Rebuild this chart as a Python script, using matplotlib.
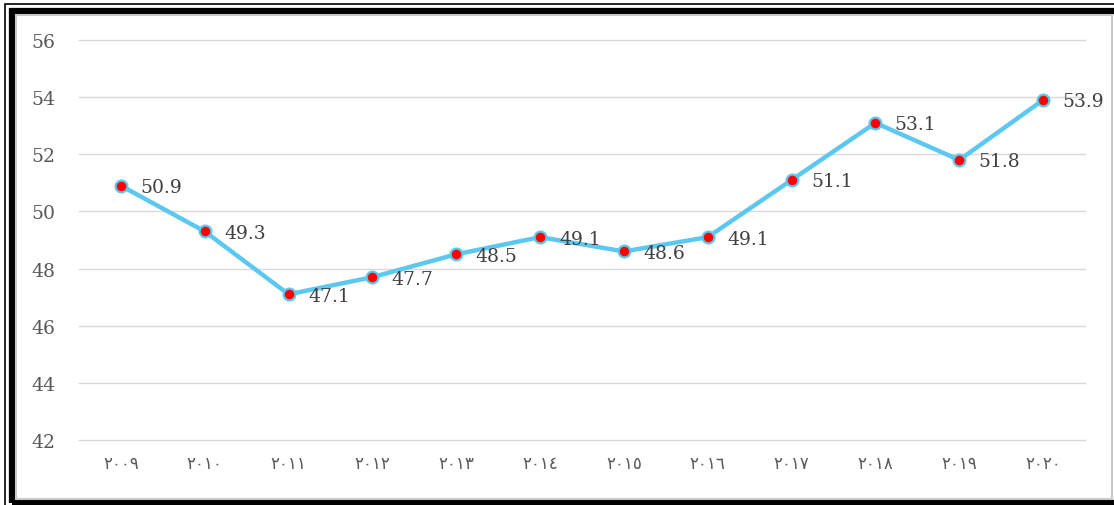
import matplotlib.pyplot as plt
from matplotlib.patches import Rectangle

years = ["٢٠٠٩", "٢٠١٠", "٢٠١١", "٢٠١٢", "٢٠١٣", "٢٠١٤",
         "٢٠١٥", "٢٠١٦", "٢٠١٧", "٢٠١٨", "٢٠١٩", "٢٠٢٠"]
values = [50.9, 49.3, 47.1, 47.7, 48.5, 49.1, 48.6, 49.1, 51.1, 53.1, 51.8, 53.9]
y_ticks = [42, 44, 46, 48, 50, 52, 54, 56]

W, H = 1114, 506
fig = plt.figure(figsize=(W / 100, H / 100), dpi=100)
fig.patch.set_facecolor("white")


def px_rect(x0, y0, x1, y1, **kw):
    # rectangle in pixel coords, y measured from top
    fig.patches.append(Rectangle((x0 / W, 1 - y1 / H), (x1 - x0) / W, (y1 - y0) / H,
                                 transform=fig.transFigure, figure=fig, **kw))


# double black frame with a grey inner edge
px_rect(5, 5, 1140, 520, fill=False, edgecolor="black", linewidth=1.2)
px_rect(11.5, 11.5, 1140, 503.5, fill=False, edgecolor="black", linewidth=4.5)
px_rect(15.5, 15.5, 1111.5, 500, fill=False, edgecolor="#c8c8c8", linewidth=1.5)

ax = fig.add_axes([79 / W, 65 / H, 1006 / W, 400 / H])
x = list(range(len(values)))
ax.plot(x, values, color="#5cc8f0", linewidth=3.2, solid_capstyle="round", zorder=3)
ax.plot(x, values, linestyle="none", marker="o", markersize=8.5,
        markerfacecolor="#ff0000", markeredgecolor="#5cc8f0", markeredgewidth=1.6, zorder=4)

for xi, v in zip(x, values):
    ax.annotate(f"{v:.1f}", (xi, v), xytext=(14, -1), textcoords="offset points",
                ha="left", va="center", fontsize=13.5, color="#404040",
                family="DejaVu Serif", zorder=5)

ax.set_xlim(-0.5, len(values) - 0.5)
ax.set_ylim(42, 56)
ax.set_yticks(y_ticks)
ax.set_yticklabels([str(t) for t in y_ticks], family="DejaVu Serif",
                   fontsize=13.5, color="#595959")
ax.set_xticks(x)
ax.set_xticklabels(years, family="DejaVu Sans", fontsize=12, color="#595959")
ax.tick_params(axis="both", length=0)
ax.tick_params(axis="y", pad=17)
ax.tick_params(axis="x", pad=10)
ax.grid(axis="y", color="#d9d9d9", linewidth=1, clip_on=False)
for gl in ax.get_ygridlines():
    gl.set_clip_on(False)
ax.set_axisbelow(True)
for s in ax.spines.values():
    s.set_visible(False)

fig.savefig("out.png", dpi=100)
